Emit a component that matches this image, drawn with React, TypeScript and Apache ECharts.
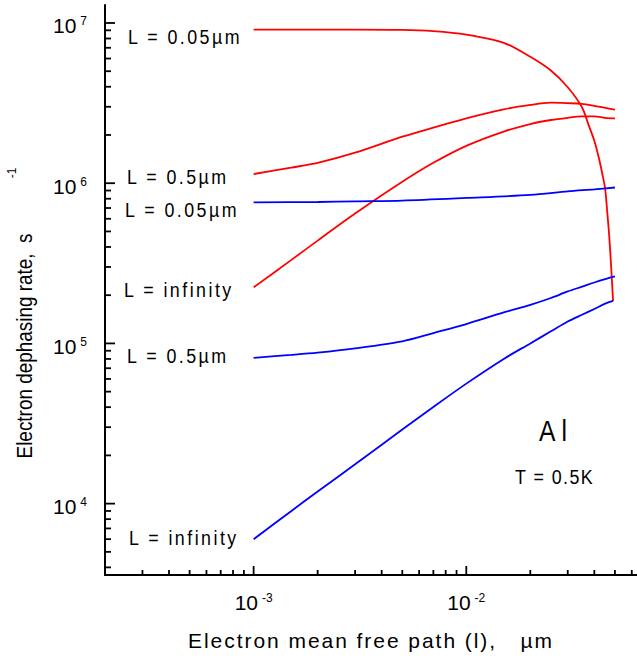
import React, { useEffect, useRef } from 'react';
import * as echarts from 'echarts';

// ---- axis ranges ----
const X_MIN = 2e-4;
const X_MAX = 0.0635;
const Y_MIN = 3585;
const Y_MAX = 1.295e7;

// ---- tick positions ----
const X_MAJOR_TICKS = [1e-3, 1e-2];
const X_MINOR_TICKS = [3e-4, 4e-4, 5e-4, 6e-4, 7e-4, 8e-4, 9e-4, 2e-3, 3e-3, 4e-3, 5e-3, 6e-3, 7e-3, 8e-3, 9e-3, 2e-2, 3e-2, 4e-2, 5e-2, 6e-2];
const Y_MAJOR_TICKS = [1e4, 1e5, 1e6, 1e7];
const Y_MINOR_TICKS = [4e3, 5e3, 6e3, 7e3, 8e3, 9e3, 2e4, 3e4, 4e4, 5e4, 6e4, 7e4, 8e4, 9e4, 2e5, 3e5, 4e5, 5e5, 6e5, 7e5, 8e5, 9e5, 2e6, 3e6, 4e6, 5e6, 6e6, 7e6, 8e6, 9e6];

// ---- series data ----
const X_STD = [0.001, 0.0015, 0.002, 0.003, 0.005, 0.007, 0.01, 0.015, 0.02, 0.025, 0.03, 0.035, 0.04, 0.045, 0.05];

// red, L = 0.05 µm
const RED_005_X = [0.001, 0.002, 0.003, 0.005, 0.007, 0.01, 0.015, 0.02, 0.025, 0.03, 0.035, 0.0375, 0.04, 0.042, 0.044, 0.045, 0.046, 0.047, 0.048, 0.049];
const RED_005_Y = [9.1e6, 9.1e6, 9.1e6, 9.07e6, 8.9e6, 8.46e6, 7.52e6, 6.15e6, 5.05e6, 3.97e6, 2.98e6, 2.33e6, 1.84e6, 1.44e6, 1.08e6, 9.2e5, 6.64e5, 4.69e5, 3.0e5, 1.84e5];
// red, L = 0.5 µm
const RED_05_Y = [1.14e6, 1.25e6, 1.34e6, 1.55e6, 1.95e6, 2.22e6, 2.54e6, 2.89e6, 3.08e6, 3.18e6, 3.16e6, 3.13e6, 3.04e6, 2.95e6, 2.88e6];
// red, L = infinity
const RED_INF_Y = [2.24e5, 3.31e5, 4.38e5, 6.46e5, 1.02e6, 1.34e6, 1.71e6, 2.1e6, 2.34e6, 2.48e6, 2.56e6, 2.61e6, 2.61e6, 2.56e6, 2.54e6];
// blue, L = 0.05 µm
const BLUE_005_X = [0.001, 0.002, 0.003, 0.005, 0.01, 0.02, 0.03, 0.04, 0.05];
const BLUE_005_Y = [7.59e5, 7.63e5, 7.71e5, 7.79e5, 8.09e5, 8.45e5, 8.9e5, 9.16e5, 9.4e5];
// blue, L = 0.5 µm
const BLUE_05_Y = [8.13e4, 8.47e4, 8.75e4, 9.31e4, 1.03e5, 1.16e5, 1.32e5, 1.56e5, 1.74e5, 1.92e5, 2.11e5, 2.26e5, 2.4e5, 2.52e5, 2.62e5];
// blue, L = infinity
const BLUE_INF_X = [0.001, 0.0015, 0.002, 0.003, 0.005, 0.007, 0.01, 0.015, 0.02, 0.025, 0.03, 0.035, 0.04, 0.045, 0.049];
const BLUE_INF_Y = [6.0e3, 8.97e3, 1.19e4, 1.76e4, 2.9e4, 4.01e4, 5.61e4, 8.0e4, 1.0e5, 1.19e5, 1.37e5, 1.51e5, 1.64e5, 1.77e5, 1.84e5];

// ---- texts ----
const CURVE_LABELS = ['L = 0.05µm', 'L = 0.5µm', 'L = 0.05µm', 'L = infinity', 'L = 0.5µm', 'L = infinity'];
const X_TITLE = 'Electron mean free path (l),   µm';
const Y_TITLE = 'Electron dephasing rate,  s';
const Y_TITLE_SUP = '-1';
const MATERIAL = 'Al';
const TEMPERATURE = 'T = 0.5K';

const fam = (marker?: string) =>
  "'Liberation Sans'" + (marker ? ', ' + marker : '') + ', Arial, sans-serif';

const zip = (xs: number[], ys: number[]) => xs.map((x, i) => [x, ys[i]]);

const powLabel = (v: number) => {
  const l = Math.log10(v);
  const e = Math.round(l);
  if (Math.abs(l - e) > 1e-6) return '';
  return '{b|10}{s|' + e + '}';
};

const tickRich = {
  b: { fontSize: 21, fontFamily: fam(), color: '#000' },
  s: { fontSize: 12, fontFamily: fam(), color: '#000', verticalAlign: 'top', padding: [0, 0, 0, 4] },
};

export default function App() {
  const ref = useRef<HTMLDivElement>(null);

  useEffect(() => {
    if (!ref.current) return;
    const chart = echarts.init(ref.current, undefined, { renderer: 'svg' });

    const tickData = [
      ...X_MAJOR_TICKS.map((v) => [v, 1]),
      ...X_MINOR_TICKS.map((v) => [v, 2]),
      ...Y_MAJOR_TICKS.map((v) => [v, 3]),
      ...Y_MINOR_TICKS.map((v) => [v, 4]),
    ];

    const lineSeries = (name: string, data: number[][], color: string) => ({
      type: 'line',
      name,
      data,
      showSymbol: false,
      symbol: 'none',
      smooth: 0.3,
      lineStyle: { color, width: 1.8 },
      itemStyle: { color },
      clip: false,
      z: 3,
    });

    const txt = (
      text: string,
      x: number,
      y: number,
      size: number,
      marker: string | undefined,
      scaleX: number,
      align = 'left',
      rotation = 0
    ) => ({
      type: 'text',
      x,
      y,
      scaleX,
      rotation,
      style: {
        text,
        fill: '#000',
        fontSize: size,
        fontFamily: fam(marker),
        align,
        verticalAlign: 'middle',
        textAlign: align,
        textVerticalAlign: 'middle',
      },
    });

    chart.setOption({
      animation: false,
      backgroundColor: '#fff',
      grid: { left: 105, right: 0, top: 5, bottom: 83, containLabel: false },
      xAxis: {
        type: 'log',
        logBase: 10,
        min: X_MIN,
        max: X_MAX,
        name: X_TITLE,
        nameLocation: 'middle',
        nameGap: 55,
        nameTextStyle: { fontSize: 21, fontFamily: fam('lsX'), color: '#000' },
        axisLine: { show: true, lineStyle: { color: '#000', width: 2 } },
        axisTick: { show: false },
        minorTick: { show: false },
        splitLine: { show: false },
        axisLabel: {
          formatter: powLabel,
          margin: 17,
          rich: tickRich,
          showMinLabel: false,
          showMaxLabel: false,
        },
      },
      yAxis: {
        type: 'log',
        logBase: 10,
        min: Y_MIN,
        max: Y_MAX,
        axisLine: { show: true, lineStyle: { color: '#000', width: 2 } },
        axisTick: { show: false },
        minorTick: { show: false },
        splitLine: { show: false },
        axisLabel: {
          formatter: powLabel,
          margin: 18,
          padding: [6, 0, 0, 0],
          rich: tickRich,
          showMinLabel: false,
          showMaxLabel: false,
        },
      },
      series: [
        lineSeries('red L=0.05', zip(RED_005_X, RED_005_Y), '#ff0000'),
        lineSeries('red L=0.5', zip(X_STD, RED_05_Y), '#ff0000'),
        lineSeries('red L=inf', zip(X_STD, RED_INF_Y), '#ff0000'),
        lineSeries('blue L=0.05', zip(BLUE_005_X, BLUE_005_Y), '#0000ff'),
        lineSeries('blue L=0.5', zip(X_STD, BLUE_05_Y), '#0000ff'),
        lineSeries('blue L=inf', zip(BLUE_INF_X, BLUE_INF_Y), '#0000ff'),
        {
          type: 'custom',
          name: 'ticks',
          data: tickData,
          clip: false,
          silent: true,
          z: 5,
          renderItem: (_params: any, api: any) => {
            const v = api.value(0);
            const k = api.value(1);
            if (k <= 2) {
              const p = api.coord([v, Y_MIN]);
              const len = k === 1 ? 9 : 5;
              return {
                type: 'line',
                shape: { x1: p[0], y1: p[1], x2: p[0], y2: p[1] - len },
                style: { stroke: '#000', lineWidth: 1.8 },
              };
            }
            const p = api.coord([X_MIN, v]);
            const len = k === 3 ? 10 : 6;
            return {
              type: 'line',
              shape: { x1: p[0], y1: p[1], x2: p[0] + len, y2: p[1] },
              style: { stroke: '#000', lineWidth: 1.8 },
            };
          },
        },
      ],
      graphic: [
        txt(CURVE_LABELS[0], 128, 36, 21, 'lsL', 0.85),
        txt(CURVE_LABELS[1], 127, 176.5, 21, 'lsL', 0.85),
        txt(CURVE_LABELS[2], 125, 209.5, 21, 'lsL', 0.85),
        txt(CURVE_LABELS[3], 124, 289.5, 21, 'lsL', 0.85),
        txt(CURVE_LABELS[4], 127, 355.5, 21, 'lsL', 0.85),
        txt(CURVE_LABELS[5], 129, 537.5, 21, 'lsL', 0.85),
        txt(MATERIAL, 539, 431, 29, 'lsA', 0.85),
        txt(TEMPERATURE, 515, 476, 21, 'lsK', 0.85),
        txt(Y_TITLE, 24, 346, 22, undefined, 0.86, 'center', Math.PI / 2),
        txt(Y_TITLE_SUP, 12, 173, 12, undefined, 1, 'center', Math.PI / 2),
      ],
    });

    return () => chart.dispose();
  }, []);

  return (
    <>
      <style>{`
        html, body { margin: 0; padding: 0; }
        .chart-box text { white-space: pre; }
        .chart-box text[style*="lsL"] { letter-spacing: 2.9px; }
        .chart-box text[style*="lsX"] { letter-spacing: 1.95px; }
        .chart-box text[style*="lsA"] { letter-spacing: 7px; }
        .chart-box text[style*="lsK"] { letter-spacing: 1.7px; }
      `}</style>
      <div
        ref={ref}
        className="chart-box"
        style={{ position: 'fixed', left: 0, top: 0, width: 637, height: 658, background: '#fff' }}
      />
    </>
  );
}
